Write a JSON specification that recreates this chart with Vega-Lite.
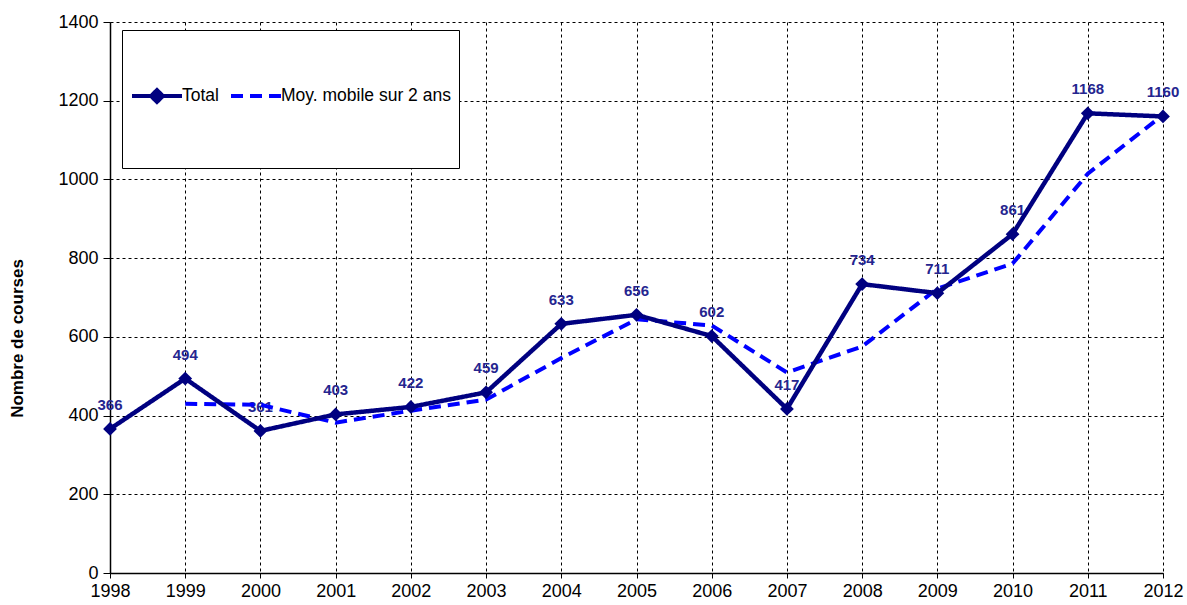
{
"$schema": "https://vega.github.io/schema/vega-lite/v6.json",
"width": 1053,
"height": 551,
"autosize": {"type": "none"},
"padding": {"left": 110, "top": 22, "right": 24, "bottom": 32},
"config": {"view": {"stroke": null}, "font": "Liberation Sans"},
"data": {"values": [
{"year": 1998, "series": "Total", "value": 366},
{"year": 1999, "series": "Total", "value": 494},
{"year": 2000, "series": "Total", "value": 361},
{"year": 2001, "series": "Total", "value": 403},
{"year": 2002, "series": "Total", "value": 422},
{"year": 2003, "series": "Total", "value": 459},
{"year": 2004, "series": "Total", "value": 633},
{"year": 2005, "series": "Total", "value": 656},
{"year": 2006, "series": "Total", "value": 602},
{"year": 2007, "series": "Total", "value": 417},
{"year": 2008, "series": "Total", "value": 734},
{"year": 2009, "series": "Total", "value": 711},
{"year": 2010, "series": "Total", "value": 861},
{"year": 2011, "series": "Total", "value": 1168},
{"year": 2012, "series": "Total", "value": 1160},
{"year": 1999, "series": "Moy. mobile sur 2 ans", "value": 430},
{"year": 2000, "series": "Moy. mobile sur 2 ans", "value": 427.5},
{"year": 2001, "series": "Moy. mobile sur 2 ans", "value": 382},
{"year": 2002, "series": "Moy. mobile sur 2 ans", "value": 412.5},
{"year": 2003, "series": "Moy. mobile sur 2 ans", "value": 440.5},
{"year": 2004, "series": "Moy. mobile sur 2 ans", "value": 546},
{"year": 2005, "series": "Moy. mobile sur 2 ans", "value": 644.5},
{"year": 2006, "series": "Moy. mobile sur 2 ans", "value": 629},
{"year": 2007, "series": "Moy. mobile sur 2 ans", "value": 509.5},
{"year": 2008, "series": "Moy. mobile sur 2 ans", "value": 575.5},
{"year": 2009, "series": "Moy. mobile sur 2 ans", "value": 722.5},
{"year": 2010, "series": "Moy. mobile sur 2 ans", "value": 786},
{"year": 2011, "series": "Moy. mobile sur 2 ans", "value": 1014.5},
{"year": 2012, "series": "Moy. mobile sur 2 ans", "value": 1164}
]},
"encoding": {
  "x": {"field": "year", "type": "quantitative",
    "scale": {"domain": [1998, 2012], "nice": false, "zero": false},
    "axis": {"values": [1998,1999,2000,2001,2002,2003,2004,2005,2006,2007,2008,2009,2010,2011,2012],
      "format": "d", "title": null, "labelFontSize": 18, "labelColor": "black", "labelPadding": 4,
      "grid": true, "gridColor": "black", "gridDash": [3, 3], "gridWidth": 1, "gridOpacity": 1,
      "domainColor": "black", "domainWidth": 1.5, "tickColor": "black", "tickSize": 5, "labelFlush": false}},
  "y": {"field": "value", "type": "quantitative",
    "scale": {"domain": [0, 1400], "nice": false},
    "axis": {"values": [0,200,400,600,800,1000,1200,1400], "format": "d",
      "title": "Nombre de courses", "titleFontSize": 17, "titleFontWeight": "bold", "titleColor": "black",
      "titleX": -93, "titleY": 316, "titleAngle": -90, "titleAlign": "center", "titleBaseline": "middle",
      "labelFontSize": 18, "labelColor": "black", "labelPadding": 5,
      "grid": true, "gridColor": "black", "gridDash": [3, 3], "gridWidth": 1, "gridOpacity": 1,
      "domainColor": "black", "domainWidth": 1.5, "tickColor": "black", "tickSize": 7}}
},
"layer": [
  {"transform": [{"filter": "datum.series == 'Total'"}],
   "mark": {"type": "text", "dy": -24, "fontSize": 15, "fontWeight": "bold", "color": "#25258f", "font": "Liberation Sans"},
   "encoding": {"text": {"field": "value", "type": "quantitative"}}},
  {"transform": [{"filter": "datum.series != 'Total'"}],
   "mark": {"type": "line", "strokeWidth": 4, "strokeCap": "butt"},
   "encoding": {
     "color": {"field": "series", "type": "nominal",
       "scale": {"domain": ["Total", "Moy. mobile sur 2 ans"], "range": ["#000080", "#0000ff"]},
       "legend": {"orient": "none", "legendX": 12, "legendY": 8, "direction": "horizontal", "title": null,
         "strokeColor": "black", "fillColor": "white", "padding": 8,
         "symbolType": "stroke", "symbolSize": 12544, "symbolStrokeWidth": 4,
         "labelFontSize": 17.5, "labelColor": "black", "labelFont": "Liberation Sans", "labelOffset": -64,
         "labelLimit": 400, "columnPadding": 4,
         "encode": {"symbols": {"update": {
           "shape": {"signal": "datum.value == 'Total' ? 'M-1,-1M-1,1M-1,0L-0.107,0M-0.661,0L-0.554,-0.107L-0.447,0L-0.554,0.107Z' : 'M-1,-1M-1,1M-1,0L-0.054,0'"},
           "fill": {"signal": "datum.value == 'Total' ? '#000080' : 'transparent'"}}}}}},
     "strokeDash": {"field": "series", "type": "nominal",
       "scale": {"domain": ["Total", "Moy. mobile sur 2 ans"], "range": [[1, 0], [12, 7]]}}
   }},
  {"transform": [{"filter": "datum.series == 'Total'"}],
   "mark": {"type": "line", "strokeWidth": 4.5, "strokeJoin": "round"},
   "encoding": {
     "color": {"field": "series", "type": "nominal"},
     "strokeDash": {"field": "series", "type": "nominal"}
   }},
  {"transform": [{"filter": "datum.series == 'Total'"}],
   "mark": {"type": "point", "shape": "diamond", "filled": true, "size": 190, "color": "#000080", "opacity": 1}}
]
}
